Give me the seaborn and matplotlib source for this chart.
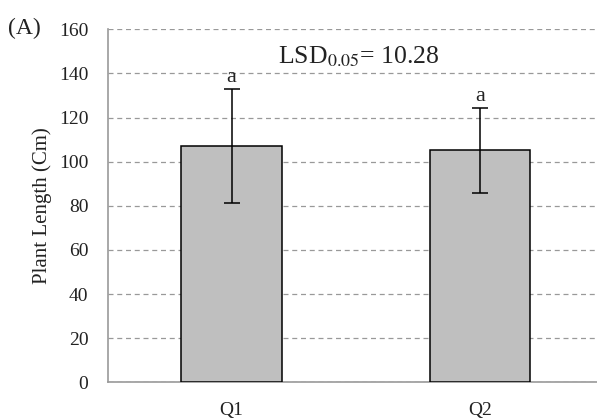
import matplotlib
matplotlib.use("Agg")
import matplotlib.pyplot as plt
import seaborn as sns
import pandas as pd
import numpy as np

categories = ["Q1", "Q2"]
means = [107.2, 105.2]
errors = [25.9, 19.2]
letters = ["a", "a"]
yticks = [0, 20, 40, 60, 80, 100, 120, 140, 160]

sns.set_theme(style="white")
plt.rcParams['font.family'] = ['Liberation Serif', 'DejaVu Serif']

df = pd.DataFrame({"cat": categories, "val": means})

fig = plt.figure(figsize=(5.97, 4.19), dpi=100)
ax = fig.add_axes([107.5/597, (419-382.3)/419, (604-107.5)/597, (382.3-29.3)/419])

sns.barplot(data=df, x="cat", y="val", ax=ax, color="#bfbfbf", width=0.404,
            edgecolor="black", linewidth=1.1, saturation=1, errorbar=None, zorder=3)
x = np.arange(len(categories))
ax.errorbar(x, means, yerr=errors, fmt="none", ecolor="black", elinewidth=1.1,
            capsize=5.5, capthick=1.1, zorder=4)
for xi, m, e, l in zip(x, means, errors, letters):
    ax.text(xi, m + e + 3.0, l, ha="center", va="baseline", fontsize=16, color="#222222")

ax.set_ylim(0, 160)
ax.set_xlim(-0.5, 1.5)
ax.set_yticks(yticks)
ax.set_yticklabels([str(t) for t in yticks], fontsize=14, color="#222222")
ax.set_xticks(x)
ax.set_xticklabels(categories, fontsize=14, color="#222222")
ax.tick_params(axis="x", which="major", length=0, pad=14)
ax.set_xticks([-0.5, 0.5, 1.5], minor=True)
ax.tick_params(axis="x", which="minor", length=5.5, color="#999999", width=1.2, direction="out")
ax.tick_params(axis="y", length=3.8, color="#999999", width=1.2, direction="out", pad=10)
ax.yaxis.grid(True, linestyle=(0, (4, 3)), color="#999999", linewidth=0.9, zorder=0)
ax.set_axisbelow(True)
for s in ["top", "right"]:
    ax.spines[s].set_visible(False)
for s in ["left", "bottom"]:
    ax.spines[s].set_color("#999999")
    ax.spines[s].set_linewidth(1.2)
ax.set_xlabel("")
ax.set_ylabel("Plant Length (Cm)", fontsize=15, color="#222222", labelpad=5)

ax.text(0.185, 144.6, r"LSD$_{0.05}$= 10.28", fontsize=18.5, color="#222222", ha="left", va="baseline",
        math_fontfamily="stix")
fig.text(8/597, 1 - 28/419, "(A)", fontsize=17, color="#222222", ha="left", va="center")

fig.savefig("out.png", dpi=100)
